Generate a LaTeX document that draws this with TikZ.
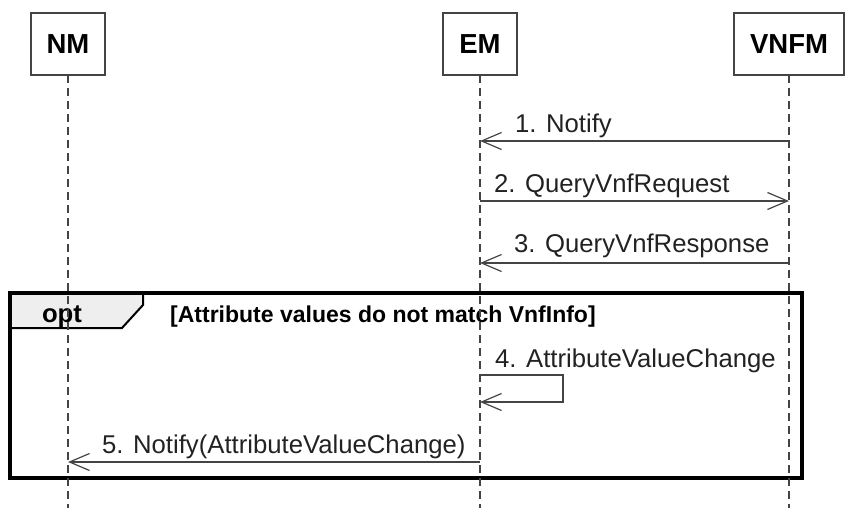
\documentclass[tikz,border=0pt]{standalone}
\usepackage{fontspec}
\setmainfont{Liberation Sans}
\usetikzlibrary{positioning}
\usetikzlibrary{arrows.meta}
\pgfdeclarelayer{nodelayer}
\pgfdeclarelayer{edgelayer}
\pgfsetlayers{nodelayer,edgelayer,main}
\definecolor{linegray}{HTML}{444444}
\definecolor{textgray}{HTML}{222222}
\definecolor{tabgray}{HTML}{EEEEEE}
\tikzset{
    none/.style = {inner sep=0pt},
    actor/.style = {draw=linegray, line width=2pt, fill=white, inner xsep=16pt,
        minimum height=62pt, font=\fontsize{27.5}{30}\selectfont\bfseries},
    lifeline/.style = {draw=linegray, line width=1.2pt, dash pattern=on 8pt off 5pt},
    msg/.style = {draw=linegray, line width=1.4pt,
        -{Straight Barb[length=20pt, width=17pt, line width=1.2pt]}},
    lbl/.style = {none, anchor=base west, text=textgray,
        font=\fontsize{25.7}{30}\selectfont},
    guard/.style = {none, anchor=base west, font=\fontsize{23}{26}\selectfont\bfseries}
}

\begin{document}
\begin{tikzpicture}[x=1pt, y=-1pt]
    \useasboundingbox (0,0) rectangle (856,529);
    \begin{pgfonlayer}{nodelayer}
        % opt fragment
        \coordinate (f0) at (10,293);
        \coordinate (f1) at (802,478);
        \filldraw [fill=tabgray, draw=black, line width=2pt] (f0) -- (143,293) -- (143,305) -- (122,328) -- (10,328) -- cycle;
        \draw [line width=3.6pt] (f0) rectangle (f1);
        \node [none, anchor=base, font=\fontsize{25.7}{30}\selectfont\bfseries] (opt) at (62,322) {opt};
        \node [guard] (cond) at (170,322) {[Attribute values do not match VnfInfo]};
    \end{pgfonlayer}
    \begin{pgfonlayer}{edgelayer}
        \coordinate (nmend) at (68,508);
        \coordinate (emend) at (480,508);
        \coordinate (vnfmend) at (789,508);
        \draw [lifeline] (68,75) to (nmend);
        \draw [lifeline] (480,75) to (emend);
        \draw [lifeline] (789,75) to (vnfmend);
    \end{pgfonlayer}
    \node [actor] (nm) at (68,44) {NM};
    \node [actor] (em) at (480,44) {EM};
    \node [actor] (vnfm) at (789,44) {VNFM};
    % message end points on the lifelines
    \coordinate (e1) at (em |- 0,141);
    \coordinate (v1) at (vnfm |- 0,141);
    \coordinate (e2) at (em |- 0,201);
    \coordinate (v2) at (vnfm |- 0,201);
    \coordinate (e3) at (em |- 0,263);
    \coordinate (v3) at (vnfm |- 0,263);
    \coordinate (e4) at (em |- 0,375);
    \coordinate (s4) at (563,375);
    \coordinate (t4) at (563,402);
    \coordinate (r4) at (em |- 0,402);
    \coordinate (e5) at (em |- 0,462);
    \coordinate (n5) at (nm |- 0,462);
    \draw [msg] (v1) to (e1);
    \draw [msg] (e2) to (v2);
    \draw [msg] (v3) to (e3);
    \draw [msg] (e4) -- (s4) -- (t4) -- (r4);
    \draw [msg] (e5) to (n5);
    \node [lbl] (m1) at (515,133) {1. Notify};
    \node [lbl] (m2) at (494,193) {2. QueryVnfRequest};
    \node [lbl] (m3) at (514,253) {3. QueryVnfResponse};
    \node [lbl] (m4) at (495,367) {4. AttributeValueChange};
    \node [lbl] (m5) at (102,453) {5. Notify(AttributeValueChange)};
\end{tikzpicture}
\end{document}
